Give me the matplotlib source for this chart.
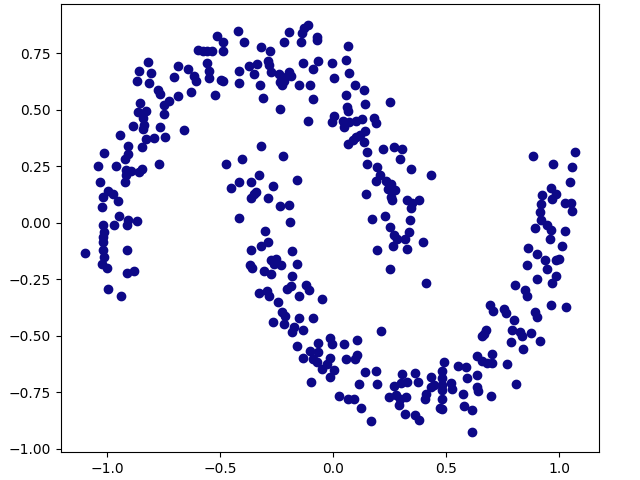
import matplotlib
matplotlib.use("Agg")
import matplotlib.pyplot as plt
import numpy as np

# point coordinates (two interleaving moons)
x_vals = [
    -0.512, -0.489, -0.419, -0.600, -0.578, -0.556, -0.538, -0.487, -0.819, -0.688,
    -0.642, -0.556, -0.549, -0.615, -0.608, -0.858, -0.807, -0.704, -0.869, -0.814,
    -0.549, -0.497, -0.487, -0.417, -0.417, -0.777, -0.767, -0.688, -0.630, -0.522,
    -0.855, -0.726, -0.748, -0.865, -0.829, -0.750, -0.843, -0.836, -0.886, -0.843,
    -0.765, -0.942, -0.829, -0.792, -0.745, -0.659, -0.910, -0.846, -1.013, -0.910,
    -0.113, -0.128, -0.138, -0.195, -0.072, -0.069, -0.143, -0.219, -0.395, -0.317,
    -0.279, 0.066, -0.133, -0.066, -0.007, 0.056, -0.338, -0.372, -0.290, -0.283,
    -0.350, -0.276, -0.239, -0.224, -0.195, -0.187, -0.217, -0.235, -0.224, -0.150,
    -0.102, -0.087, 0.004, 0.071, -0.323, 0.096, 0.137, 0.059, -0.311, -0.087,
    0.140, 0.251, -0.236, 0.061, 0.066, -0.109, 0.004, -0.007, 0.042, 0.049,
    0.071, 0.100, 0.126, 0.181, 0.189, 0.142, 0.119, 0.100, 0.086, 0.066,
    0.135, -0.320, 0.219, 0.270, 0.307, -0.221, 0.152, 0.887, 1.069, -0.922,
    -1.042, -0.962, -0.917, -0.895, -0.917, -0.858, -0.846, -0.770, -1.032, -0.922,
    -0.998, -0.973, -1.020, -0.951, -1.023, -0.947, -0.972, -1.020, -0.914, -0.910,
    -0.870, -1.013, -1.018, -1.018, -1.097, -1.018, -1.013, -0.913, -1.025, -1.001,
    -0.914, -0.883, -0.998, -0.939, -0.475, -0.404, -0.417, -0.450, -0.417, -0.327,
    -0.364, -0.268, -0.161, -0.342, -0.352, -0.364, -0.290, -0.236, -0.195, -0.192,
    -0.301, -0.290, -0.317, -0.364, -0.184, -0.276, -0.254, -0.261, -0.231, -0.158,
    -0.369, -0.357, -0.308, -0.276, -0.180, -0.327, -0.293, -0.283, -0.202, -0.187,
    -0.121, -0.106, -0.150, -0.047, -0.242, 0.295, 0.347, 0.152, 0.196, 0.208,
    0.189, 0.233, 0.255, 0.241, 0.274, 0.255, 0.263, 0.145, 0.325, 0.351,
    0.379, 0.344, 0.174, 0.230, 0.251, 0.339, 0.336, 0.270, 0.282, 0.319,
    0.196, 0.267, 0.325, 0.252, 0.396, 0.975, 1.059, 1.047, 0.432, 0.966,
    0.927, 0.985, 0.971, 0.922, 0.916, 1.025, 1.055, 1.056, 0.922, 0.949,
    0.966, 0.892, 1.025, 0.959, 0.863, 0.901, 0.938, 0.985, 1.000, 0.857,
    0.949, 1.012, 0.985, 0.971, 0.904, 0.805, 0.848, 0.860, 0.413, 0.693,
    0.963, 1.030, -0.224, -0.212, -0.268, -0.217, -0.150, -0.088, -0.173, -0.180,
    -0.135, 0.211, -0.161, -0.066, -0.015, -0.007, 0.049, 0.105, -0.102, -0.066,
    -0.133, -0.091, -0.069, -0.013, -0.028, -0.047, 0.002, -0.013, 0.056, 0.105,
    0.097, -0.099, 0.140, 0.192, 0.115, 0.196, 0.027, 0.066, 0.093, 0.123,
    0.167, 0.307, 0.362, 0.270, 0.300, 0.329, 0.375, 0.248, 0.277, 0.296,
    0.322, 0.292, 0.317, 0.362, 0.379, 0.710, 0.757, 0.764, 0.892, 0.901,
    0.801, 0.791, 0.826, 0.838, 0.875, 0.789, 0.916, 0.841, 0.676, 0.668,
    0.657, 0.639, 0.661, 0.683, 0.705, 0.705, 0.772, 0.491, 0.553, 0.587,
    0.480, 0.435, 0.480, 0.521, 0.528, 0.484, 0.484, 0.447, 0.432, 0.410,
    0.406, 0.636, 0.592, 0.636, 0.642, 0.573, 0.698, 0.808, 0.480, 0.473,
    0.484, 0.580, 0.614, 0.617,
]
y_vals = [
    0.828, 0.798, 0.847, 0.764, 0.761, 0.761, 0.758, 0.761, 0.713, 0.695,
    0.681, 0.705, 0.673, 0.651, 0.629, 0.673, 0.663, 0.646, 0.629, 0.619,
    0.641, 0.633, 0.629, 0.673, 0.616, 0.585, 0.570, 0.559, 0.577, 0.567,
    0.530, 0.540, 0.521, 0.489, 0.492, 0.482, 0.464, 0.430, 0.427, 0.415,
    0.422, 0.389, 0.371, 0.374, 0.381, 0.412, 0.338, 0.337, 0.307, 0.302,
    0.876, 0.862, 0.840, 0.845, 0.823, 0.809, 0.801, 0.801, 0.801, 0.779,
    0.758, 0.780, 0.707, 0.717, 0.705, 0.720, 0.703, 0.695, 0.717, 0.698,
    0.658, 0.665, 0.658, 0.643, 0.665, 0.651, 0.629, 0.621, 0.607, 0.611,
    0.611, 0.681, 0.639, 0.663, 0.607, 0.611, 0.588, 0.567, 0.551, 0.548,
    0.523, 0.533, 0.504, 0.511, 0.493, 0.451, 0.474, 0.445, 0.452, 0.422,
    0.445, 0.452, 0.460, 0.464, 0.442, 0.405, 0.390, 0.378, 0.364, 0.349,
    0.359, 0.338, 0.327, 0.334, 0.324, 0.297, 0.312, 0.297, 0.312, 0.284,
    0.250, 0.250, 0.231, 0.228, 0.209, 0.224, 0.239, 0.258, 0.182, 0.179,
    0.140, 0.128, 0.113, 0.095, 0.069, 0.029, -0.008, -0.012, -0.008, 0.010,
    0.007, -0.042, -0.064, -0.086, -0.134, -0.122, -0.152, -0.122, -0.181, -0.201,
    -0.223, -0.214, -0.292, -0.324, 0.258, 0.282, 0.181, 0.153, 0.019, 0.209,
    0.179, 0.162, 0.187, 0.135, 0.128, 0.109, 0.109, 0.076, 0.080, 0.003,
    -0.038, -0.086, -0.103, -0.119, -0.125, -0.163, -0.159, -0.181, -0.189, -0.184,
    -0.189, -0.199, -0.214, -0.228, -0.237, -0.311, -0.302, -0.326, -0.292, -0.281,
    -0.274, -0.299, -0.324, -0.336, -0.351, 0.283, 0.239, 0.261, 0.246, 0.213,
    0.184, 0.184, 0.172, 0.150, 0.143, 0.113, 0.099, 0.128, 0.099, 0.087,
    0.102, 0.066, 0.018, 0.029, -0.019, 0.013, -0.042, -0.056, -0.071, -0.071,
    -0.122, -0.105, -0.115, -0.203, -0.087, 0.261, 0.246, 0.179, 0.213, 0.155,
    0.121, 0.128, 0.106, 0.084, 0.047, 0.087, 0.087, 0.051, 0.010, -0.012,
    -0.031, -0.024, -0.037, -0.071, -0.110, -0.137, -0.163, -0.167, -0.159, -0.189,
    -0.203, -0.103, -0.237, -0.267, -0.247, -0.274, -0.296, -0.324, -0.267, -0.363,
    -0.365, -0.372, -0.395, -0.414, -0.439, -0.446, -0.420, -0.420, -0.461, -0.483,
    -0.476, -0.480, -0.545, -0.532, -0.510, -0.535, -0.538, -0.517, -0.569, -0.572,
    -0.597, -0.605, -0.616, -0.597, -0.623, -0.645, -0.650, -0.682, -0.601, -0.586,
    -0.605, -0.704, -0.660, -0.657, -0.715, -0.715, -0.768, -0.782, -0.782, -0.819,
    -0.877, -0.670, -0.665, -0.723, -0.711, -0.704, -0.706, -0.771, -0.763, -0.782,
    -0.771, -0.807, -0.847, -0.852, -0.874, -0.391, -0.380, -0.398, -0.395, -0.417,
    -0.429, -0.473, -0.483, -0.502, -0.486, -0.528, -0.525, -0.560, -0.476, -0.491,
    -0.502, -0.591, -0.612, -0.620, -0.620, -0.582, -0.627, -0.616, -0.635, -0.638,
    -0.656, -0.682, -0.689, -0.711, -0.734, -0.719, -0.738, -0.719, -0.726, -0.756,
    -0.782, -0.675, -0.689, -0.729, -0.744, -0.756, -0.768, -0.715, -0.782, -0.818,
    -0.822, -0.810, -0.829, -0.925,
]

POINT_COLOR = "#0d0887"

fig, ax = plt.subplots(figsize=(6.4, 4.8), dpi=100)
ax.scatter(np.array(x_vals), np.array(y_vals), color=POINT_COLOR)
fig.subplots_adjust(left=0.095, right=0.936, bottom=0.058, top=0.991)
fig.savefig("out.png", dpi=100)
